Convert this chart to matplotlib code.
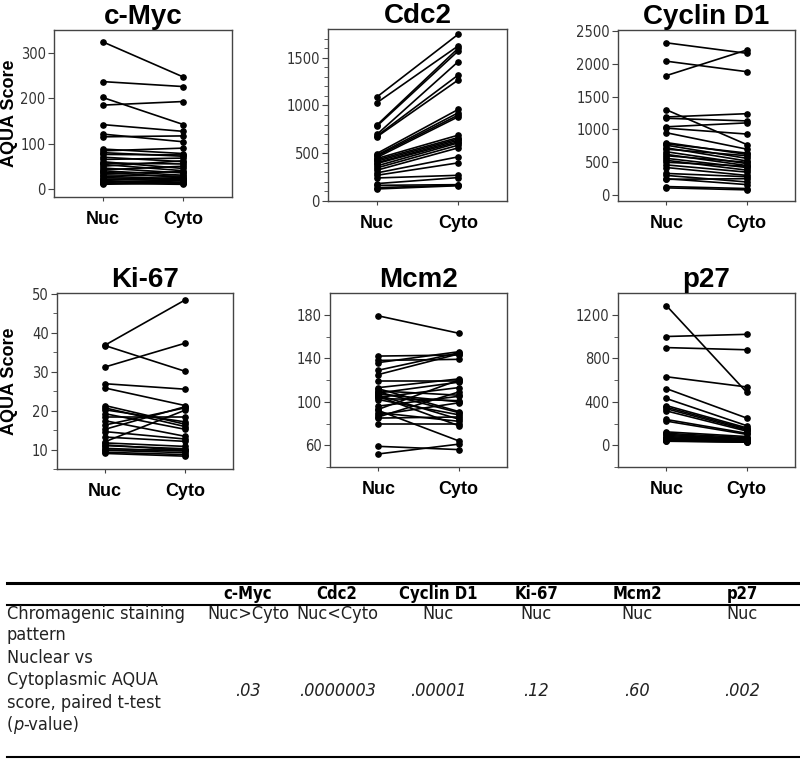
from matplotlib import pyplot as plt
from matplotlib import font_manager
from matplotlib.lines import Line2D
import numpy as np

# ---- data ----
groups = ["Nuc", "Cyto"]

cmyc_nuc = [325, 237, 202, 185, 142, 121, 115, 88, 84, 80, 76, 70, 65, 60, 57, 54, 50, 46, 42, 40,
            37, 34, 31, 28, 25, 22, 20, 18, 16, 14, 12, 10]
cmyc_cyto = [247, 226, 142, 193, 127, 104, 117, 78, 90, 72, 75, 60, 68, 45, 55, 40, 62, 35, 50, 30,
             25, 38, 28, 22, 20, 18, 25, 15, 12, 20, 10, 14]

cdc2_nuc = [1088, 1028, 794, 783, 696, 680, 671, 497, 480, 469, 455, 444, 430, 416, 400, 392, 367,
            346, 322, 294, 269, 241, 182, 164, 140, 126]
cdc2_cyto = [1745, 1623, 1598, 1570, 1458, 1318, 1266, 958, 923, 899, 881, 689, 664, 650, 636, 620,
             608, 584, 556, 462, 399, 269, 245, 171, 165, 160]

cyc_nuc = [2320, 2040, 1820, 1300, 1190, 1170, 1040, 1020, 950, 800, 780, 760, 720, 700, 660, 620,
           600, 560, 530, 500, 460, 420, 330, 300, 250, 240, 130, 110]
cyc_cyto = [2160, 1880, 2210, 770, 1240, 1130, 1100, 930, 700, 620, 640, 560, 520, 600, 480, 450,
            500, 420, 380, 440, 350, 300, 280, 200, 160, 250, 100, 80]

ki_nuc = [36.8, 36.7, 31.2, 26.9, 25.8, 21.3, 20.7, 20.2, 19.2, 18.4, 17.4, 16.3, 15.2, 14.6, 13.2,
          12.0, 11.7, 11.2, 11.0, 10.3, 10.0, 9.8, 9.3, 9.0]
ki_cyto = [48.4, 30.1, 37.3, 25.5, 21.3, 16.5, 15.9, 17.1, 15.2, 18.4, 13.4, 20.7, 21.0, 12.7, 12.1,
           20.1, 10.8, 9.8, 10.2, 9.6, 10.0, 9.2, 8.7, 8.3]

mcm_nuc = [179, 142, 138, 136, 129, 125, 119, 113, 112, 110, 109, 108, 107, 106, 105, 104, 103, 102,
           96, 93, 92, 90, 88, 86, 85, 80, 59, 52]
mcm_cyto = [163, 143, 139, 146, 145, 144, 119, 121, 91, 106, 90, 118, 100, 84, 78, 113, 101, 88,
            105, 120, 64, 82, 99, 109, 86, 80, 56, 61]

p27_nuc = [1285, 1000, 898, 630, 521, 430, 365, 350, 336, 316, 237, 222, 123, 110, 100, 90, 80, 70,
           66, 60, 55, 51, 45, 40, 37]
p27_cyto = [487, 1020, 878, 536, 250, 180, 160, 150, 140, 130, 110, 100, 80, 70, 60, 55, 50, 45, 40,
            40, 35, 35, 30, 30, 28]

titles = ["c-Myc", "Cdc2", "Cyclin D1", "Ki-67", "Mcm2", "p27"]

# table
col_heads = ["c-Myc", "Cdc2", "Cyclin D1", "Ki-67", "Mcm2", "p27"]
pattern = ["Nuc>Cyto", "Nuc<Cyto", "Nuc", "Nuc", "Nuc", "Nuc"]
pvals = [".03", ".0000003", ".00001", ".12", ".60", ".002"]

# ---- fonts ----
plt.rcParams["font.family"] = ["Liberation Sans", "DejaVu Sans"]


def find_font(keys):
    for f in font_manager.fontManager.ttflist:
        fn = f.fname.replace(" ", "").lower()
        if all(k in fn for k in keys):
            return f.fname
    return None


reg = find_font(["liberationsansnarrow-regular"]) or find_font(["dejavusanscondensed.ttf"])
bld = find_font(["liberationsansnarrow-bold."]) or find_font(["dejavusanscondensed-bold.ttf"])
ita = find_font(["liberationsansnarrow-italic"]) or find_font(["dejavusanscondensed-oblique"])


def fp(path, size, fallback_style="normal", fallback_weight="normal", shrink=0.86):
    if path:
        return font_manager.FontProperties(fname=path, size=size)
    return font_manager.FontProperties(family="Liberation Sans", size=size * shrink,
                                       style=fallback_style, weight=fallback_weight)


W, H = 800, 759
fig = plt.figure(figsize=(8, 7.59), dpi=100)


def box(l, r, t, b):
    return [l / W, 1 - b / H, (r - l) / W, (b - t) / H]


panels = [
    (box(54, 232, 30, 197), cmyc_nuc, cmyc_cyto, (-18, 351), [0, 100, 200, 300], None),
    (box(328, 507, 29, 201), cdc2_nuc, cdc2_cyto, (0, 1800), [0, 500, 1000, 1500], 100),
    (box(618, 795, 30, 201), cyc_nuc, cyc_cyto, (-90, 2515), [0, 500, 1000, 1500, 2000, 2500], None),
    (box(57, 233, 293, 469), ki_nuc, ki_cyto, (6, 50.2), [10, 20, 30, 40, 50], 5),
    (box(330, 507, 293, 467), mcm_nuc, mcm_cyto, (40, 200), [60, 100, 140, 180], 20),
    (box(618, 795, 293, 467), p27_nuc, p27_cyto, (-80, 1400), [0, 400, 800, 1200], 200),
]

tick_fp = fp(reg, 10.5)

for i, (pos, nuc, cyto, ylim, yt, minor) in enumerate(panels):
    ax = fig.add_axes(pos)
    for a, b in zip(nuc, cyto):
        ax.plot([0, 1], [a, b], color="black", lw=1.2, marker="o", ms=3.8)
    ax.set_xlim(-0.6, 1.6)
    ax.set_ylim(*ylim)
    ax.set_xticks([0, 1])
    ax.set_xticklabels(groups, fontsize=13, fontweight="bold")
    ax.set_yticks(yt)
    ax.set_yticklabels([str(v) for v in yt], fontproperties=tick_fp, color="#333333")
    if minor:
        ax.set_yticks(np.arange(ylim[0] - ylim[0] % minor, ylim[1], minor), minor=True)
    ax.tick_params(axis="x", length=3, pad=7, color="#444444")
    ax.tick_params(axis="y", which="major", length=4, pad=2, color="#444444")
    ax.tick_params(axis="y", which="minor", length=3, color="#444444")
    for s in ax.spines.values():
        s.set_color("#444444")
        s.set_linewidth(1.0)
    ax.set_title(titles[i], fontsize=20, fontweight="bold", pad=3)
    if i % 3 == 0:
        ax.set_ylabel("AQUA Score", fontsize=13, fontweight="bold")
        ax.yaxis.set_label_coords(18 / W, pos[1] + pos[3] / 2, transform=fig.transFigure)

# ---- table ----
def fy(y):
    return 1 - y / H


for y, lw in [(583, 2.2), (605, 1.5), (757, 1.5)]:
    fig.add_artist(Line2D([7 / W, 1], [fy(y), fy(y)], color="black", lw=lw))

col_x = [248, 337, 438, 536, 637, 742]
fs = 13
txt_col = "#222222"
cell_fp = fp(reg, fs)
head_fp = fp(bld, 12, fallback_weight="bold")
ital_fp = fp(ita, fs, fallback_style="italic")

for x, h, p, v in zip(col_x, col_heads, pattern, pvals):
    fig.text(x / W, fy(594), h, ha="center", va="center", fontproperties=head_fp)
    fig.text(x / W, fy(614), p, ha="center", va="center", fontproperties=cell_fp, color=txt_col)
    fig.text(x / W, fy(691), v, ha="center", va="center", fontproperties=ital_fp, color=txt_col)

fig.text(7 / W, fy(614), "Chromagenic staining", ha="left", va="center", fontproperties=cell_fp,
         color=txt_col)
fig.text(7 / W, fy(635), "pattern", ha="left", va="center", fontproperties=cell_fp, color=txt_col)
row2 = ["Nuclear vs", "Cytoplasmic AQUA", "score, paired t-test"]
for k, t in enumerate(row2):
    fig.text(7 / W, fy(658 + 22.3 * k), t, ha="left", va="center", fontproperties=cell_fp,
             color=txt_col)
t0 = fig.text(7 / W, fy(725), "(", ha="left", va="center", fontproperties=cell_fp, color=txt_col)
fig.canvas.draw()
bb = t0.get_window_extent()
tp = fig.text(bb.x1 / W, fy(725), "p", ha="left", va="center", fontproperties=ital_fp, color=txt_col)
fig.canvas.draw()
bb2 = tp.get_window_extent()
fig.text(bb2.x1 / W, fy(725), "-value)", ha="left", va="center", fontproperties=cell_fp,
         color=txt_col)

fig.savefig("out.png", dpi=100)
